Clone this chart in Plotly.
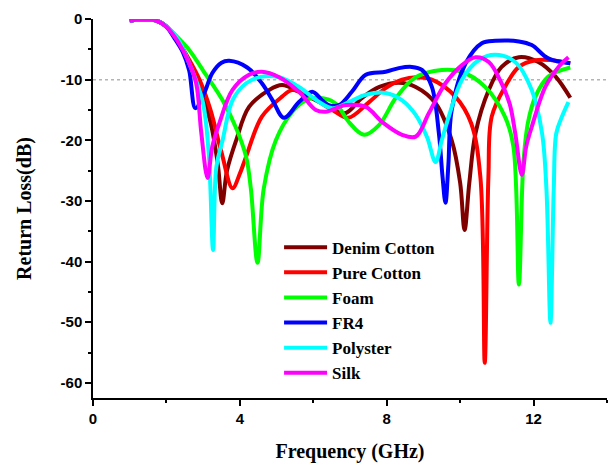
import plotly.graph_objects as go

# Return loss of the antenna on different substrates (GHz, dB)
denim_f = [1.0, 1.3, 1.7, 2.0, 2.3, 2.6, 2.9, 3.2, 3.4, 3.52, 3.65, 3.9, 4.25, 4.8, 5.15,
           5.61, 6.16, 6.7, 6.89, 7.33, 7.8, 8.33, 8.79, 9.33, 9.77, 10.0, 10.12, 10.25,
           10.42, 10.78, 11.13, 11.6, 12.13, 12.6, 13.0]
denim_db = [-0.3, -0.1, -0.2, -1.2, -3.5, -6.8, -11, -17, -24, -30.4, -25, -20, -14.5, -11.7, -10.9,
            -12, -13.7, -15.3, -15.5, -13, -11.2, -10.5, -11.2, -13.9, -20, -27, -34.8, -27,
            -18.8, -11.7, -7.9, -6.3, -7.1, -9.5, -13]

pure_f = [1.0, 1.3, 1.7, 2.0, 2.3, 2.6, 2.9, 3.2, 3.5, 3.8, 4.0, 4.17, 4.6, 5.15, 5.43,
          5.97, 6.52, 6.95, 7.52, 7.97, 8.42, 8.8, 9.23, 9.87, 10.3, 10.55, 10.67, 10.77,
          10.86, 11.22, 11.6, 12.05, 12.5, 13.0]
pure_db = [-0.3, -0.1, -0.2, -1.2, -3.5, -6.5, -10, -15, -22, -27.9, -25.5, -22.7, -16.1, -12.8, -11.7,
           -13, -15, -16.3, -13.7, -11.4, -10, -9.6, -10, -12.8, -17.2, -26, -56.7, -26,
           -16.1, -11.2, -7.9, -6.8, -6.8, -7.3]

foam_f = [1.0, 1.3, 1.7, 2.0, 2.3, 2.62, 3.0, 3.53, 3.9, 4.17, 4.3, 4.48, 4.65, 4.98, 5.43,
          5.8, 6.16, 6.6, 6.97, 7.38, 7.79, 8.25, 8.79, 9.5, 10.04, 10.68, 11.22, 11.45,
          11.6, 11.72, 11.85, 12.05, 12.4, 13.0]
foam_db = [-0.3, -0.1, -0.2, -1.2, -3.0, -5.1, -8.5, -13.4, -18, -22.7, -28, -40.2, -28, -20, -15.3,
           -13.4, -13, -13.9, -17, -19.1, -17.5, -13, -9.6, -8.4, -8.7, -11.2, -16.1, -21,
           -43.8, -24, -17, -12.8, -9.5, -8.0]

fr4_f = [1.0, 1.3, 1.7, 2.0, 2.2, 2.45, 2.62, 2.79, 3.03, 3.25, 3.5, 3.71, 4.2, 4.6, 4.9,
         5.2, 5.61, 5.97, 6.24, 6.42, 6.7, 7.05, 7.43, 7.97, 8.33, 8.68, 8.96, 9.23, 9.42,
         9.52, 9.6, 9.68, 9.77, 10.15, 10.59, 10.96, 11.6, 11.95, 12.4, 13.0]
fr4_db = [-0.3, -0.1, -0.2, -1.3, -3, -5.5, -8.5, -14.7, -12.2, -8.9, -7.2, -6.9, -8, -10.6, -13.5,
          -16.3, -13.7, -12, -13.4, -14.2, -14.2, -12, -9.2, -8.7, -8.1, -7.9, -8.4, -11.2, -18.8,
          -26, -30.3, -24, -15, -7.3, -4, -3.6, -3.7, -4.3, -6.5, -7.3]

poly_f = [1.0, 1.3, 1.7, 2.0, 2.3, 2.6, 2.98, 3.15, 3.27, 3.36, 3.53, 3.8, 4.17, 4.6, 5.07,
          5.61, 6.16, 6.52, 6.97, 7.43, 7.97, 8.42, 8.79, 9.1, 9.33, 9.5, 9.69, 10.05, 10.5,
          10.96, 11.5, 11.95, 12.23, 12.35, 12.46, 12.55, 12.62, 12.78, 12.95]
poly_db = [-0.3, -0.1, -0.2, -1.2, -3.2, -7, -13.4, -22, -38.1, -24.4, -20, -13.4, -10.6, -9.5, -9.6,
           -11.2, -13.7, -14.7, -13.7, -12.5, -12.2, -13.4, -15.8, -19.5, -23.6, -20, -16.1, -10, -6.8,
           -5.9, -7.1, -11.7, -18.8, -28, -50.1, -28, -18.8, -16, -13.7]

silk_f = [1.0, 1.3, 1.7, 2.0, 2.3, 2.6, 2.81, 2.95, 3.12, 3.25, 3.44, 3.8, 4.25, 4.6, 5.07,
          5.61, 6.07, 6.34, 6.89, 7.43, 7.88, 8.42, 8.79, 9.15, 9.6, 10.05, 10.42, 10.78, 11.13,
          11.35, 11.5, 11.68, 11.8, 11.95, 12.32, 12.68, 12.95]
silk_db = [-0.3, -0.1, -0.2, -1.3, -3.6, -7, -10.6, -18.8, -26.2, -21, -17.2, -11.7, -9.2, -8.7, -9.6,
           -12, -15, -15.3, -14.2, -14.5, -17, -19.1, -19.4, -15.5, -10.6, -7.6, -6.3, -7.1, -10.6,
           -14, -18.8, -25.7, -21, -17.8, -11.2, -7.9, -6.3]

series = [
    ("Denim Cotton", denim_f, denim_db, "#800000"),
    ("Pure Cotton", pure_f, pure_db, "#ff0000"),
    ("Foam", foam_f, foam_db, "#00ff00"),
    ("FR4", fr4_f, fr4_db, "#0000ff"),
    ("Polyster", poly_f, poly_db, "#00ffff"),
    ("Silk", silk_f, silk_db, "#ff00ff"),
]

x_ticks = [0, 4, 8, 12]
y_ticks = [0, -10, -20, -30, -40, -50, -60]

fig = go.Figure()
for name, f, db, color in series:
    fig.add_trace(go.Scatter(
        x=f, y=db, name=name, mode="lines",
        line=dict(color=color, width=4, shape="spline", smoothing=1.0),
    ))

# -10 dB reference level
fig.add_shape(type="line", xref="x", yref="y", x0=0, x1=14, y0=-10, y1=-10,
              line=dict(color="#b4b4b4", width=1.5, dash="dot"), layer="below")

SERIF = "Times New Roman, Liberation Serif, DejaVu Serif, serif"
SANS = "Arial, Liberation Sans, sans-serif"
tick_font = dict(family=SANS, size=15, color="black", weight="bold")
title_font = dict(family=SERIF, size=20, color="black", weight="bold")

fig.update_layout(
    width=611, height=465,
    margin=dict(l=93, r=4, t=19, b=67),
    paper_bgcolor="white", plot_bgcolor="white",
    showlegend=True,
    legend=dict(
        x=0.362, y=0.444, xanchor="left", yanchor="top",
        font=dict(family=SERIF, size=17, color="black", weight="bold"),
        bgcolor="rgba(0,0,0,0)", itemwidth=43, tracegroupgap=0,
    ),
    xaxis=dict(
        range=[0, 14], tickvals=x_ticks, ticktext=[str(v) for v in x_ticks],
        showline=True, linecolor="black", linewidth=1.5, mirror=False,
        ticks="outside", ticklen=6, tickwidth=1.5, tickcolor="black",
        minor=dict(dtick=2, tick0=0, ticks="outside", ticklen=3, tickwidth=1.5, tickcolor="black"),
        showgrid=False, zeroline=False, tickfont=tick_font,
        title=dict(text="Frequency (GHz)", font=title_font, standoff=18),
    ),
    yaxis=dict(
        range=[-62.5, 0], tickvals=y_ticks, ticktext=[str(v) for v in y_ticks],
        showline=True, linecolor="black", linewidth=1.5, mirror=False,
        ticks="outside", ticklen=6, tickwidth=1.5, tickcolor="black",
        minor=dict(dtick=5, tick0=0, ticks="outside", ticklen=3, tickwidth=1.5, tickcolor="black"),
        showgrid=False, zeroline=False, tickfont=tick_font,
        title=dict(text="Return Loss(dB)", font=title_font, standoff=24),
    ),
)

fig.write_html("out.html")
